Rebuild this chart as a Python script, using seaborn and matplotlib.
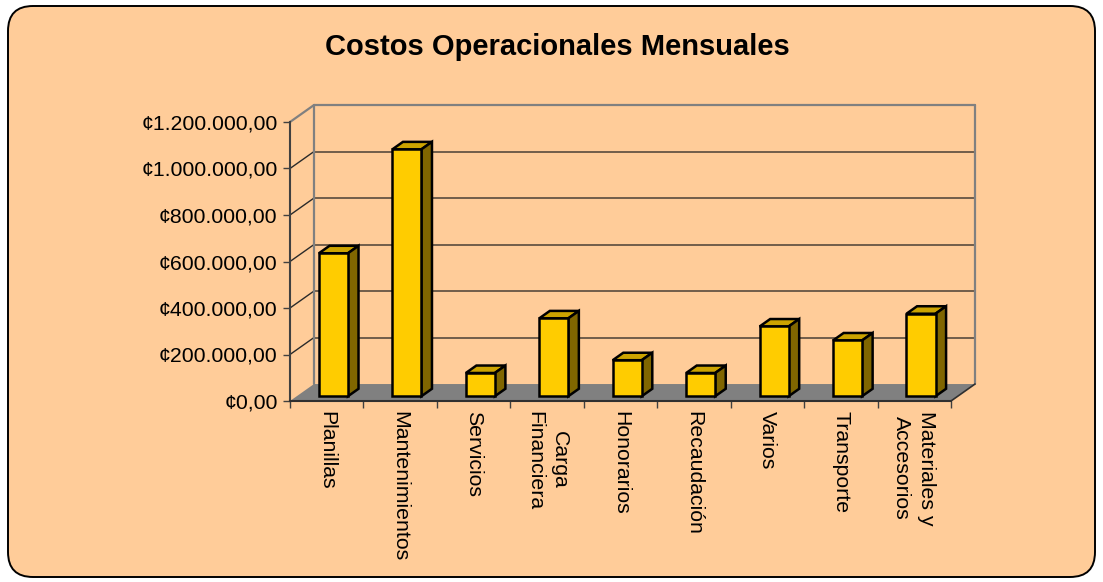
import matplotlib
matplotlib.use("Agg")
import matplotlib.pyplot as plt
import seaborn as sns
import pandas as pd
from matplotlib.patches import Polygon, FancyBboxPatch

# ---------------- data ----------------
categories = ["Planillas", "Mantenimientos", "Servicios", "Carga\nFinanciera",
              "Honorarios", "Recaudación", "Varios", "Transporte",
              "Materiales y\nAccesorios"]
costs = [615000, 1062000, 100000, 335000, 155000, 100000, 300000, 240000, 355000]
y_ticks = [0, 200000, 400000, 600000, 800000, 1000000, 1200000]
y_tick_labels = ["¢0,00", "¢200.000,00", "¢400.000,00", "¢600.000,00",
                 "¢800.000,00", "¢1.000.000,00", "¢1.200.000,00"]
title = "Costos Operacionales Mensuales"

# ---------------- style ----------------
sns.set_theme(style="white")
plt.rcParams['font.family'] = ['Liberation Sans', 'DejaVu Sans']

W, H = 1103, 582
fig = plt.figure(figsize=(W / 100, H / 100), dpi=100)
fig.patch.set_facecolor('white')

frame = FancyBboxPatch((0.08, 0.05), 10.87, 5.71,
                       boxstyle="round,pad=0,rounding_size=0.25",
                       transform=fig.dpi_scale_trans, facecolor='#FFCC99',
                       edgecolor='black', lw=1.4, zorder=-10)
fig.patches.append(frame)

ax = fig.add_axes([290 / W, (H - 401) / H, (951 - 290) / W, (401 - 122) / H])
ax.set_facecolor('none')
ax.set_zorder(1)

df = pd.DataFrame({"categoria": categories, "costo": costs})
sns.barplot(data=df, x="categoria", y="costo", ax=ax, width=0.395,
            color='#FFCC00', saturation=1, edgecolor='black', linewidth=1.8,
            zorder=5, errorbar=None)

ax.set_xlim(-0.5, 8.5)
ax.set_ylim(0, 1.2e6)

# depth geometry (in data units)
DX = 0.327
DY = 73000
f0 = 0.28   # bar front position in depth
fd = 0.44   # bar depth

x_left, x_right = -0.5, 8.5
ytop = y_ticks[-1]

# floor
ax.add_patch(Polygon([(x_left, 0), (x_right, 0), (x_right + DX, DY), (x_left + DX, DY)],
                     closed=True, facecolor='#808080', edgecolor='none',
                     zorder=1, clip_on=False))
ax.plot([x_right, x_right + DX], [0, DY], color='#303030', lw=1.2, clip_on=False, zorder=2)

# back wall and left wall gridlines
for v in y_ticks[1:-1]:
    ax.plot([x_left + DX, x_right + DX], [v + DY, v + DY], color='#4a4035', lw=1.1,
            clip_on=False, zorder=0.5)
    ax.plot([x_left, x_left + DX], [v, v + DY], color='#2a2a2a', lw=1.0,
            clip_on=False, zorder=0.5)
wall_c = '#808080'
ax.plot([x_left + DX, x_left + DX], [DY, ytop + DY], color=wall_c, lw=1.6, clip_on=False, zorder=0.6)
ax.plot([x_right + DX, x_right + DX], [DY, ytop + DY], color=wall_c, lw=1.6, clip_on=False, zorder=0.6)
ax.plot([x_left + DX, x_right + DX], [ytop + DY, ytop + DY], color=wall_c, lw=1.6, clip_on=False, zorder=0.6)
ax.plot([x_left, x_left + DX], [ytop, ytop + DY], color=wall_c, lw=1.6, clip_on=False, zorder=0.6)

# 3D bar faces derived from seaborn's bars
bars = [p for p in ax.patches if not isinstance(p, Polygon)]
for p in bars:
    x0 = p.get_x() + f0 * DX
    y0 = f0 * DY
    w = p.get_width()
    h = p.get_height()
    p.set_x(x0)
    p.set_y(y0)
    ddx, ddy = fd * DX, fd * DY
    top = [(x0, y0 + h), (x0 + w, y0 + h), (x0 + w + ddx, y0 + h + ddy), (x0 + ddx, y0 + h + ddy)]
    side = [(x0 + w, y0), (x0 + w + ddx, y0 + ddy), (x0 + w + ddx, y0 + h + ddy), (x0 + w, y0 + h)]
    ax.add_patch(Polygon(top, closed=True, facecolor='#CCA300', edgecolor='black',
                         lw=1.8, zorder=4.9, clip_on=False, joinstyle='miter'))
    ax.add_patch(Polygon(side, closed=True, facecolor='#806600', edgecolor='black',
                         lw=1.8, zorder=4.9, clip_on=False, joinstyle='miter'))

# axes cosmetics
for s in ['top', 'right']:
    ax.spines[s].set_visible(False)
ax.spines['left'].set_color('#404040')
ax.spines['left'].set_linewidth(1.5)
ax.spines['bottom'].set_color('#303030')
ax.spines['bottom'].set_linewidth(1.5)
ax.spines['left'].set_zorder(3)
ax.spines['bottom'].set_zorder(3)

ax.set_yticks(y_ticks, y_tick_labels)
ax.tick_params(axis='y', direction='out', length=5, width=1, color='#404040',
               pad=4, labelsize=15.3, labelcolor='black', left=True)
ax.set_xticks(range(len(categories)), categories, rotation=-90, ha='center', va='top')
ax.set_xticks([i - 0.5 for i in range(len(categories) + 1)], minor=True)
ax.tick_params(axis='x', which='major', length=0, pad=7, labelsize=15.3,
               labelcolor='black', bottom=True)
ax.tick_params(axis='x', which='minor', length=5, width=1, color='#404040', bottom=True)
for lbl in ax.get_xticklabels():
    lbl.set_linespacing(1.4)
ax.set_xlabel('')
ax.set_ylabel('')

fig.text(557 / W, 1 - 47 / H, title, ha='center', va='center', fontsize=21,
         fontweight='bold', color='black')

fig.savefig('out.png', dpi=100, facecolor='white')
